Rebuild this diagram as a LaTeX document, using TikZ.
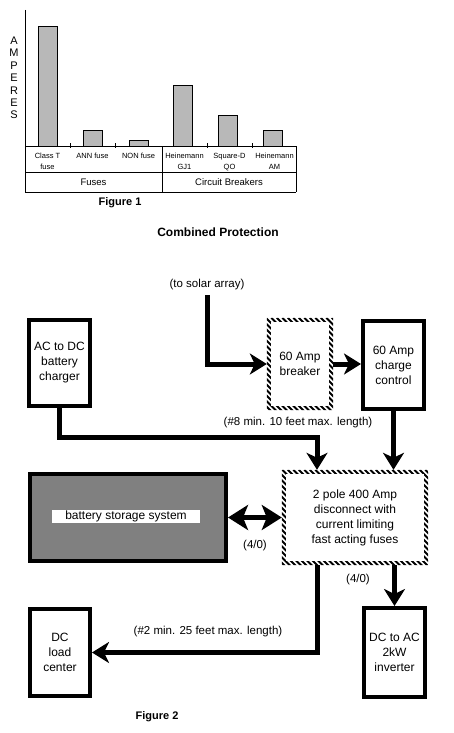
\documentclass[tikz,border=0pt]{standalone}
\usepackage{fontspec}
\setmainfont{Liberation Sans}
\usetikzlibrary{arrows.meta,calc}
\begin{document}
\begin{tikzpicture}[x=1pt,y=-1pt,
  box/.style={draw,line width=4pt,rectangle,inner sep=0pt,align=center,font=\fontsize{12}{15}\selectfont},
  hbox/.style={rectangle,inner sep=0pt,align=center,font=\fontsize{12}{15}\selectfont},
  wire/.style={line width=5pt},
  arr/.style={wire,-{Stealth[length=17pt,width=21pt,inset=5pt]}},
  darr/.style={wire,{Stealth[length=20pt,width=25pt,inset=5pt]}-{Stealth[length=20pt,width=25pt,inset=5pt]}},
  lbl/.style={font=\fontsize{11.5}{14}\selectfont,inner sep=0pt},
  cat/.style={font=\fontsize{7.5}{11}\selectfont,inner sep=0pt,align=center},
  grp/.style={font=\fontsize{9.5}{11}\selectfont,inner sep=0pt},
  ttl/.style={font=\bfseries\fontsize{11}{13}\selectfont,inner sep=0pt},
  bar/.style={draw,line width=1pt,fill=black!28},
  chart/.style={line width=1pt},
  hatch/.style={line width=2pt}
]
\useasboundingbox (0,0) rectangle (453,733);

% ---------- Figure 1 ----------
\draw[chart] (25,10) -- (25,193);
\draw[chart] (25,146) -- (296,146);
\draw[chart] (25,172) -- (296,172);
\draw[chart] (25,192) -- (296,192);
\draw[chart] (296,146) -- (296,192);
\draw[chart] (162,146) -- (162,192);
\foreach \t in {70,115,207,252} \draw[chart] (\t,143) -- (\t,148);
\draw[bar] (38,146) rectangle (57,27);
\draw[bar] (83,146) rectangle (102,131);
\draw[bar] (129,146) rectangle (148,140);
\draw[bar] (173,146) rectangle (192,86);
\draw[bar] (218,146) rectangle (237,116);
\draw[bar] (263,146) rectangle (282,131);
\node[font=\fontsize{11}{12.4}\selectfont,align=center,inner sep=0pt] (amp) at (14,78) {A\\M\\P\\E\\R\\E\\S};
\node[cat,anchor=north] (c1) at (47.5,153) {Class T\\fuse};
\node[cat,anchor=north] (c2) at (92.5,153) {ANN fuse};
\node[cat,anchor=north] (c3) at (138.5,153) {NON fuse};
\node[cat,anchor=north] (c4) at (184.5,153) {Heinemann\\GJ1};
\node[cat,anchor=north] (c5) at (229.5,153) {Square-D\\QO};
\node[cat,anchor=north] (c6) at (274.5,153) {Heinemann\\AM};
\node[grp] (g1) at (93.5,182.5) {Fuses};
\node[grp] (g2) at (229,182.5) {Circuit Breakers};
\node[ttl] (fig1) at (120,203) {Figure 1};
\node[font=\bfseries\fontsize{12}{14}\selectfont,inner sep=0pt] (title) at (218,232) {Combined Protection};

% ---------- Figure 2 ----------
\node[box,minimum width=61pt,minimum height=86pt] (acdc) at (59.5,363) {AC to DC\\battery\\charger};
\node[hbox,minimum width=66pt,minimum height=92pt] (breaker) at (300,364) {60 Amp\\breaker};
\node[box,minimum width=61pt,minimum height=88pt] (charge) at (393.5,365) {60 Amp\\charge\\control};
\node[box,fill=black!50,minimum width=196pt,minimum height=87pt] (battery) at (128,517.5) {};
\node[hbox,fill=white,minimum width=148pt,minimum height=13pt] (battxt) at (126,516.5) {battery storage system};
\node[hbox,minimum width=146pt,minimum height=95pt] (disc) at (355,517.5) {2 pole 400 Amp\\disconnect with\\current limiting\\fast acting fuses};
\node[box,minimum width=60pt,minimum height=87pt] (dcload) at (60,652.5) {DC\\load\\center};
\node[box,minimum width=61pt,minimum height=89pt] (inv) at (394.5,652.5) {DC to AC\\2kW\\inverter};

% hatched borders
\begin{scope}[even odd rule]
\clip (breaker.north west) rectangle (breaker.south east)
  ($(breaker.north west)+(4,4)$) rectangle ($(breaker.south east)+(-4,-4)$);
\foreach \s in {-100,-94.5,...,72} \draw[hatch] ([xshift=\s pt]breaker.north west) -- ++(110,110);
\end{scope}
\begin{scope}[even odd rule]
\clip (disc.north west) rectangle (disc.south east)
  ($(disc.north west)+(4,4)$) rectangle ($(disc.south east)+(-4,-4)$);
\foreach \s in {-104,-98.5,...,152} \draw[hatch] ([xshift=\s pt]disc.north west) -- ++(110,110);
\end{scope}

% connectors
\node[lbl] (solartxt) at (207,285) {(to solar array)};
\coordinate (solar) at (207,295);
\draw[arr] (solar) |- (breaker.west);
\draw[arr] (breaker.east) -- (breaker.east -| charge.west);
\coordinate (j1) at (317,437);
\draw[arr] (acdc.south) |- (j1) -- (j1 |- disc.north);
\draw[arr] (charge.south) -- (charge.south |- disc.north);
\draw[darr] (battery.east) -- (disc.west);
\draw[arr] (j1 |- disc.south) |- (dcload.east);
\draw[arr] (inv.north |- disc.south) -- (inv.north);

\node[lbl] (l8) at (298,423) {(\#8 min. 10 feet max. length)};
\node[lbl] (l40a) at (255,546) {(4/0)};
\node[lbl] (l40b) at (358,580) {(4/0)};
\node[lbl] (l2) at (208,632) {(\#2 min. 25 feet max. length)};
\node[ttl] (fig2) at (157,717) {Figure 2};
\end{tikzpicture}
\end{document}
